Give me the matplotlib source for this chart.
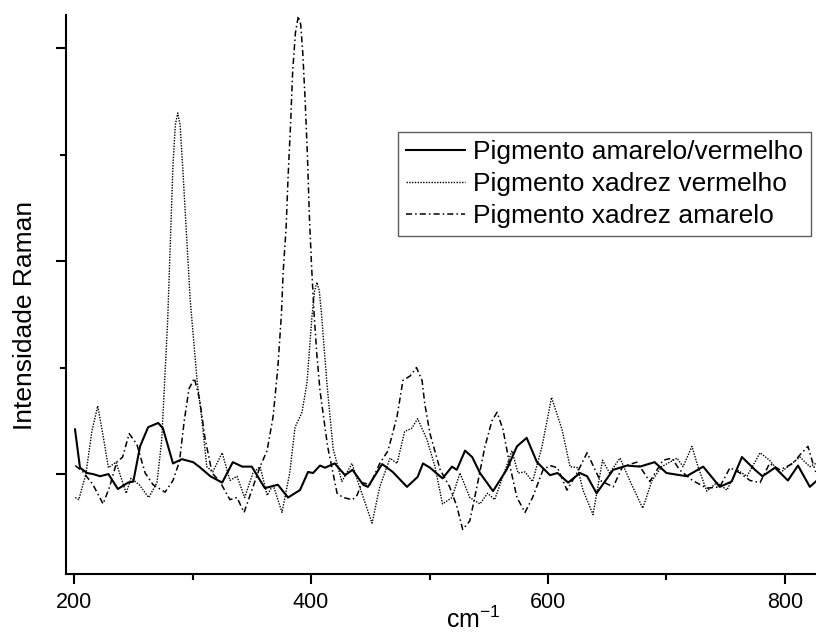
import matplotlib
matplotlib.use("Agg")
import matplotlib.pyplot as plt
from matplotlib.ticker import MultipleLocator, NullFormatter

plt.rcParams['font.family'] = ['Liberation Sans', 'DejaVu Sans']
plt.rcParams['mathtext.fontset'] = 'custom'
plt.rcParams['mathtext.rm'] = 'Liberation Sans'

# Pigmento amarelo/vermelho (solid)
x_am_verm = [200.8, 205, 211, 216, 222, 229, 237, 245.6, 250, 255.7, 262.5, 271, 275,
             283.5, 291, 300.5, 306, 315, 325, 334, 342, 350, 361, 372, 380.6, 390.7,
             397.5, 401.7, 407.6, 411.8, 420, 428.7, 435, 444, 448, 460, 469, 481, 490,
             494.5, 500.4, 511, 519, 523, 530, 536, 542.6, 553.6, 565, 573.8, 582, 590.7,
             601.7, 608, 617, 627, 633, 641, 655, 666.7, 677.6, 690, 700, 717, 731, 745,
             755, 763.7, 774.7, 781, 791.6, 802.5, 811, 821, 826]
y_am_verm = [0.21, 0.03, 0.005, 0.0, -0.01, 0.0, -0.07, -0.04, -0.035, 0.13, 0.22, 0.24, 0.215,
             0.05, 0.07, 0.056, 0.033, -0.01, -0.04, 0.056, 0.035, 0.035, -0.066, -0.05, -0.11, -0.075,
             0.01, 0.005, 0.04, 0.03, 0.05, -0.005, 0.02, -0.05, -0.06, 0.047, 0.01, -0.06, -0.013,
             0.05, 0.03, -0.02, 0.035, 0.02, 0.11, 0.08, 0.005, -0.08, 0.02, 0.13, 0.17, 0.056,
             -0.005, 0.005, -0.04, 0.005, -0.01, -0.09, 0.02, 0.04, 0.035, 0.056, 0.005, -0.01, 0.035, -0.06,
             -0.035, 0.08, 0.02, -0.01, 0.03, -0.03, 0.04, -0.06, -0.035]

# Pigmento xadrez vermelho (dotted)
x_xad_verm = [201, 204, 210, 215, 220, 224.5, 229, 235.4, 244, 248, 255, 263, 270, 274, 279,
              283.5, 285.5, 287.5, 289.5, 291.7, 298, 303.8, 308, 312, 317, 325, 331.6, 337.5,
              344, 351, 357, 363, 368, 375.5, 382, 386.5, 392.4, 396.6, 400.8, 403, 405, 407,
              409, 413.5, 418.6, 426, 434.6, 441, 451.5, 458, 466.7, 472.6, 479, 485, 490, 498,
              504.6, 511, 519, 525.7, 534, 542.6, 549, 555, 562, 569.6, 574.7, 580.6, 587, 595,
              603, 611.8, 618.6, 625, 629.5, 638, 646, 652, 660.8, 669, 680, 687.8, 696, 708.9,
              714, 721.5, 726.6, 734, 742.6, 751, 759.5, 768, 779, 787, 795.8, 802.5, 812.6, 821, 826]
y_xad_verm = [-0.11, -0.12, 0.0, 0.2, 0.32, 0.18, 0.03, 0.056, -0.09, -0.02, -0.05, -0.11, -0.04, 0.16, 0.72,
              1.45, 1.64, 1.695, 1.64, 1.44, 0.82, 0.44, 0.25, 0.035, 0.01, 0.1, -0.03, -0.01,
              -0.11, 0.005, 0.035, -0.1, -0.05, -0.18, 0.005, 0.22, 0.29, 0.43, 0.74, 0.86, 0.9, 0.86,
              0.74, 0.42, 0.12, -0.035, 0.05, -0.06, -0.23, -0.06, 0.075, 0.05, 0.2, 0.215, 0.26, 0.16,
              0.035, -0.14, -0.11, 0.005, -0.11, -0.14, -0.09, -0.12, -0.01, 0.11, 0.005, 0.01, -0.035, 0.13,
              0.36, 0.21, 0.035, 0.03, -0.075, -0.19, 0.065, 0.005, 0.075, -0.03, -0.16, -0.03, 0.035, 0.075,
              0.035, 0.13, 0.035, -0.08, -0.04, -0.075, 0.02, -0.01, 0.1, 0.065, 0.005, 0.035, 0.08, 0.035, 0.05]

# Pigmento xadrez amarelo (dash-dot)
x_xad_am = [201, 207.6, 216, 224.5, 230, 236, 241, 246.5, 253, 260, 266.7, 276.8, 283.5, 289,
            293, 297, 301.5, 306, 310.5, 316.5, 323, 331.6, 337.5, 343.5, 351, 357, 362.9, 368,
            372, 375, 376.5, 379, 380.6, 382.8, 384.5, 386.8, 389.3, 391.3, 393, 395, 397, 398.6,
            400.6, 402.5, 404.8, 407.6, 414, 422, 427, 435, 438.8, 443, 449.8, 458, 465, 472.6,
            477.6, 483.5, 489, 493.7, 496, 500.4, 509, 517, 523, 528, 534, 540, 546.8, 552.7, 557,
            562, 568, 573.8, 580.6, 587, 595.8, 601.7, 608, 616, 624.5, 633, 644, 655, 663, 675,
            686, 697, 704.6, 711, 722, 734, 745, 753.6, 762, 770.5, 779, 787, 795.8, 806.8, 812.6,
            819.4, 823.6, 826]
y_xad_am = [0.04, 0.01, -0.05, -0.14, -0.06, 0.056, 0.08, 0.19, 0.14, 0.005, -0.05, -0.085, -0.03, 0.06,
            0.25, 0.4, 0.45, 0.35, 0.17, 0.005, -0.035, -0.12, -0.11, -0.18, -0.06, 0.035, 0.11, 0.27,
            0.5, 0.75, 0.95, 1.16, 1.39, 1.65, 1.89, 2.07, 2.15, 2.11, 1.98, 1.76, 1.49, 1.21,
            0.96, 0.76, 0.57, 0.39, 0.13, -0.09, -0.11, -0.12, -0.1, -0.04, -0.05, 0.05, 0.11, 0.27,
            0.44, 0.46, 0.5, 0.44, 0.33, 0.19, 0.02, -0.06, -0.15, -0.26, -0.22, -0.06, 0.13, 0.25, 0.29,
            0.21, 0.035, -0.11, -0.18, -0.11, 0.02, 0.04, 0.03, -0.075, 0.005, 0.1, -0.03, -0.06, 0.035, 0.056,
            -0.035, 0.065, 0.075, 0.02, -0.03, -0.066, -0.06, 0.03, 0.005, -0.03, -0.04, 0.05, 0.02, 0.05, 0.09,
            0.13, 0.05, 0.01]

labels = ["Pigmento amarelo/vermelho", "Pigmento xadrez vermelho", "Pigmento xadrez amarelo"]
x_ticks = [200, 400, 600, 800]

fig = plt.figure(figsize=(8.16, 6.32), dpi=100)
ax = fig.add_axes([66/816, 1 - 574/632, 750/816, 559/632])

ax.plot(x_am_verm, y_am_verm, color='black', lw=1.5, ls='-', label=labels[0])
ax.plot(x_xad_verm, y_xad_verm, color='black', lw=1.0, ls=(0, (1, 1)), label=labels[1])
ax.plot(x_xad_am, y_xad_am, color='black', lw=1.1, ls=(0, (4, 2, 1, 2)), label=labels[2])

ax.set_xlim(193.2, 826.2)
ax.set_ylim(-0.469, 2.155)

# ----- spines / ticks -----
for side in ['top', 'right']:
    ax.spines[side].set_visible(False)
for side in ['left', 'bottom']:
    ax.spines[side].set_linewidth(1.5)

ax.set_xticks(x_ticks)
ax.xaxis.set_minor_locator(MultipleLocator(100))
ax.yaxis.set_major_locator(MultipleLocator(1))
ax.yaxis.set_minor_locator(MultipleLocator(0.5))
ax.yaxis.set_major_formatter(NullFormatter())

ax.tick_params(axis='both', which='major', direction='out', length=7, width=1.5)
ax.tick_params(axis='both', which='minor', direction='out', length=4, width=1.5)
ax.tick_params(axis='x', labelsize=15.5, pad=6)

# axis labels placed like the original
fig.text(25/816, 1 - 315/632, "Intensidade Raman", rotation=90,
         ha='center', va='center', fontsize=19)
fig.text(473/816, 4/632, "cm$^{-1}$", ha='center', va='baseline', fontsize=18)

leg = ax.legend(loc='upper left', bbox_to_anchor=((398 - 66)/750, (574 - 132)/559),
                borderaxespad=0, fontsize=19, frameon=True, fancybox=False,
                handlelength=2.25, handletextpad=0.3, borderpad=0.3, labelspacing=0.3)
leg.get_frame().set_edgecolor('#333333')
leg.get_frame().set_linewidth(1.0)

fig.savefig("out.png", dpi=100)
